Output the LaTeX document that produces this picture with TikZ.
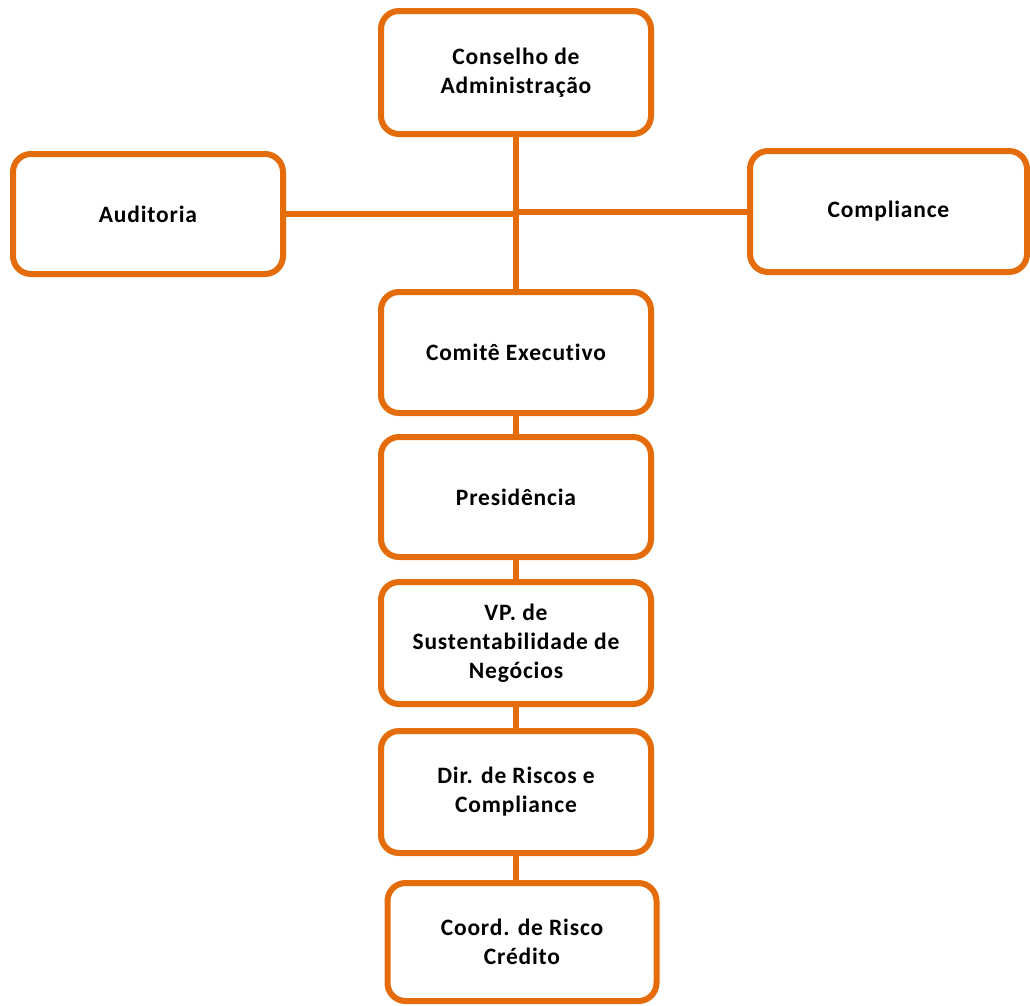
\documentclass[tikz,border=0pt]{standalone}
\usepackage{fontspec}
\setmainfont{Carlito}[Ligatures=CommonOff,LetterSpace=3.5]
\definecolor{orgline}{RGB}{228,108,10}
\tikzset{
  orgbox/.style={draw=orgline, line width=6pt, rounded corners=18pt, fill=white,
    align=center, inner sep=0pt, font=\bfseries\fontsize{23.5}{29}\selectfont},
  orgline/.style={draw=orgline, line width=6pt}
}
\begin{document}
\begin{tikzpicture}[x=1pt,y=-1pt]
\useasboundingbox (0,0) rectangle (1030,1005);
\node[orgbox, minimum width=270pt, minimum height=123pt] (cons) at (516,72.5) {Conselho de\\Administração};
\node[orgbox, minimum width=270pt, minimum height=120pt] (aud) at (148,214) {Auditoria};
\node[orgbox, minimum width=277pt, minimum height=121pt] (comp) at (888.5,211.5) {Compliance};
\node[orgbox, minimum width=270pt, minimum height=121pt] (com) at (516,352.5) {Comitê Executivo};
\node[orgbox, minimum width=270pt, minimum height=120pt] (pres) at (516,497) {Presidência};
\node[orgbox, minimum width=270pt, minimum height=122pt] (vp) at (516,643) {VP. de\\Sustentabilidade de\\Negócios};
\node[orgbox, minimum width=270pt, minimum height=122pt] (dir) at (516,792) {Dir. de Riscos e\\Compliance};
\node[orgbox, minimum width=269pt, minimum height=118pt] (coord) at (522,942) {Coord. de Risco\\Crédito};
\draw[orgline] (cons.south) -- (com.north);
\draw[orgline] (aud.east) -- (aud.east -| cons.south);
\draw[orgline] (comp.west) -- (comp.west -| cons.south);
\draw[orgline] (com.south) -- (pres.north);
\draw[orgline] (pres.south) -- (vp.north);
\draw[orgline] (vp.south) -- (dir.north);
\draw[orgline] (dir.south) -- (dir.south |- coord.north);
\end{tikzpicture}
\end{document}
